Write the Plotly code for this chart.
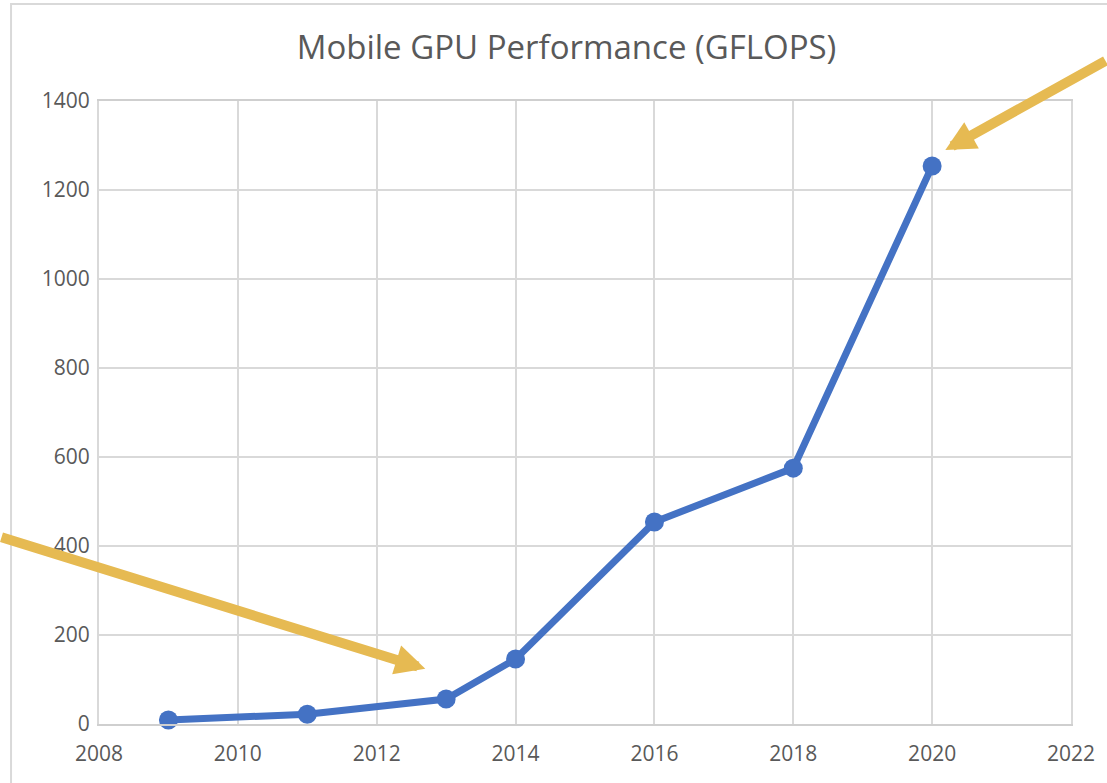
import plotly.graph_objects as go

years = [2009, 2011, 2013, 2014, 2016, 2018, 2020]
gflops = [9, 22, 56, 146, 454, 575, 1254]

x_ticks = [2008, 2010, 2012, 2014, 2016, 2018, 2020, 2022]
y_ticks = [0, 200, 400, 600, 800, 1000, 1200, 1400]

LINE_BLUE = "#4472C4"
ARROW_GOLD = "#E6BA52"
GRID = "#D9D9D9"
TEXT = "#595959"
FONT = "Open Sans"

fig = go.Figure()

fig.add_trace(
    go.Scatter(
        x=years,
        y=gflops,
        mode="lines+markers",
        line=dict(color=LINE_BLUE, width=7),
        marker=dict(color=LINE_BLUE, size=19),
        cliponaxis=False,
        showlegend=False,
    )
)

# outer chart border (cropped screenshot, only top/left visible)
fig.add_shape(
    type="rect",
    xref="paper",
    yref="paper",
    x0=-0.0905,
    x1=1.3,
    y0=-0.3,
    y1=1.1557,
    line=dict(color=GRID, width=2),
    layer="below",
)

# callout arrows
fig.add_annotation(
    x=2012.70, y=124, xref="x", yref="y",
    ax=-447, ay=-132, text="",
    showarrow=True, arrowhead=2, arrowsize=0.6, arrowwidth=10,
    arrowcolor=ARROW_GOLD,
)
fig.add_annotation(
    x=2020.19, y=1290, xref="x", yref="y",
    ax=177, ay=-90, text="",
    showarrow=True, arrowhead=2, arrowsize=0.6, arrowwidth=10,
    arrowcolor=ARROW_GOLD,
)

fig.update_xaxes(
    range=[2008, 2022],
    tickvals=x_ticks,
    ticktext=[str(t) for t in x_ticks],
    showgrid=True,
    gridcolor=GRID,
    gridwidth=2,
    showline=True,
    linecolor="#CFCFCF",
    linewidth=2,
    mirror=True,
    zeroline=False,
    ticks="",
    ticklabelstandoff=10,
    tickfont=dict(family=FONT, size=21, color=TEXT),
)

fig.update_yaxes(
    range=[0, 1400],
    tickvals=y_ticks,
    showgrid=True,
    gridcolor=GRID,
    gridwidth=2,
    showline=True,
    linecolor=GRID,
    linewidth=2,
    mirror=True,
    zeroline=False,
    ticks="",
    ticklabelstandoff=3,
    tickfont=dict(family=FONT, size=21, color=TEXT),
)

fig.update_layout(
    width=1107,
    height=783,
    margin=dict(l=99, r=27, t=101, b=59),
    plot_bgcolor="white",
    paper_bgcolor="white",
    title=dict(
        text="Mobile GPU Performance (GFLOPS)",
        x=0.481,
        xref="paper",
        xanchor="center",
        y=1 - 47 / 783,
        yref="container",
        yanchor="middle",
        font=dict(family=FONT, size=33, color=TEXT),
    ),
)

# drop the default page margin so the figure sits at the window's corner
fig.write_html(
    "out.html",
    config={"displayModeBar": False},
    post_script="document.body.style.margin = '0';",
)
